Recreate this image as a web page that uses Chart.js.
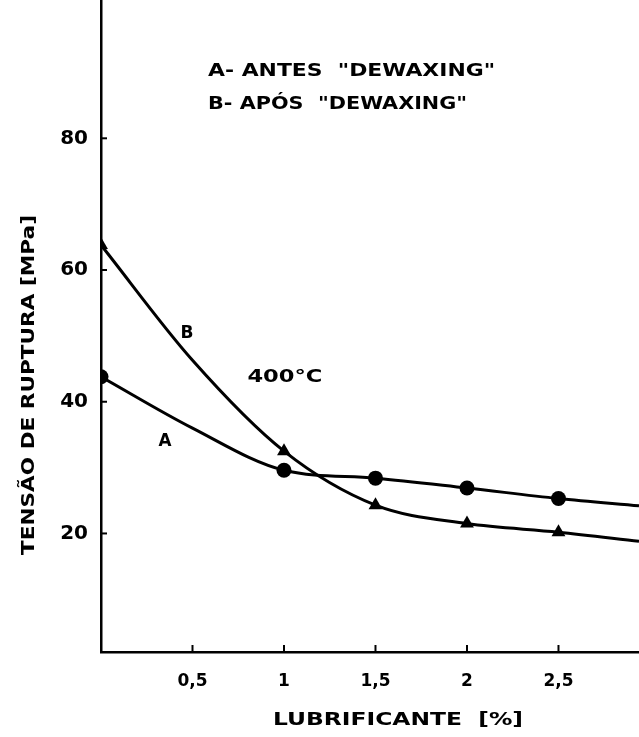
<!DOCTYPE html>
<html><head><meta charset="utf-8">
<script src="https://cdn.jsdelivr.net/npm/chart.js@4/dist/chart.umd.min.js"></script>
<style>html,body{margin:0;padding:0;background:#fff}#wrap{width:639px;height:737px}</style>
</head><body><div id="wrap"><canvas id="c" width="639" height="737"></canvas></div>
<script>
// measured points (markers)
const lubrificante = [0, 1, 1.5, 2, 2.5];
const tensaoA = [43.8, 29.6, 28.4, 26.9, 25.3];   // A - antes "dewaxing" (circles)
const tensaoB = [63.8, 32.5, 24.3, 21.5, 20.2];   // B - após "dewaxing" (triangles)
// drawn curves
const curveX = [0, 0.5, 1, 1.5, 2, 2.5, 2.94];
const curveA = [43.8, 36.0, 29.6, 28.4, 26.9, 25.3, 24.2];
const curveB = [63.8, 46.3, 32.5, 24.3, 21.5, 20.2, 18.8];
const xTicks = [0.5, 1, 1.5, 2, 2.5];
const yTicks = [20, 40, 60, 80];

const FONT = 'DejaVu Sans';
const pts = (xs, ys) => xs.map((x, i) => ({x, y: ys[i]}));

function fitText(ctx, text, cx, cy, w, size, rot) {
  ctx.save();
  ctx.font = 'bold ' + size + 'px "' + FONT + '"';
  ctx.textAlign = 'center';
  ctx.textBaseline = 'middle';
  ctx.translate(cx, cy);
  if (rot) ctx.rotate(rot);
  const m = ctx.measureText(text).width;
  ctx.scale(w / m, 1);
  ctx.fillStyle = '#000';
  ctx.fillText(text, 0, 0);
  ctx.restore();
}

const decor = {
  id: 'decor',
  afterDraw(chart) {
    const {ctx, scales: {x, y}, chartArea} = chart;
    ctx.save();
    ctx.strokeStyle = '#000';
    ctx.lineWidth = 2;
    yTicks.forEach(v => {
      const py = y.getPixelForValue(v);
      ctx.beginPath(); ctx.moveTo(chartArea.left, py); ctx.lineTo(chartArea.left + 6, py); ctx.stroke();
    });
    xTicks.forEach(v => {
      const px = x.getPixelForValue(v);
      ctx.beginPath(); ctx.moveTo(px, chartArea.bottom); ctx.lineTo(px, chartArea.bottom - 7); ctx.stroke();
    });
    ctx.restore();
    // titles
    fitText(ctx, 'TENSÃO DE RUPTURA [MPa]', 30, 385, 340, 17, -Math.PI / 2);
    fitText(ctx, 'LUBRIFICANTE  [%]', 398, 720, 250, 18, 0);
    // annotations in data coordinates
    const notes = [
      ['A- ANTES  "DEWAXING"', 0.585, 90.1, 287, 18],
      ['B- APÓS  "DEWAXING"', 0.585, 85.2, 259, 18],
      ['B', 0.47, 50.4, 13, 18],
      ['400°C', 0.80, 43.7, 75, 18],
      ['A', 0.35, 34.0, 13, 18]
    ];
    notes.forEach(([t, vx, vy, w, s]) => {
      const px = x.getPixelForValue(vx), py = y.getPixelForValue(vy);
      fitText(ctx, t, px + (t.length > 1 ? w / 2 : 0), py, w, s, 0);
    });
  }
};

function noPad(s) { s.paddingTop = 0; s.paddingBottom = 0; s.paddingLeft = 0; s.paddingRight = 0; }

new Chart(document.getElementById('c'), {
  type: 'scatter',
  data: {
    datasets: [
      {data: pts(curveX, curveA), showLine: true, borderColor: '#000', borderWidth: 3, pointRadius: 0, cubicInterpolationMode: 'monotone'},
      {data: pts(curveX, curveB), showLine: true, borderColor: '#000', borderWidth: 3, pointRadius: 0, cubicInterpolationMode: 'monotone'},
      {data: pts(lubrificante, tensaoA), showLine: false, pointStyle: 'circle', pointRadius: 7.5, backgroundColor: '#000', borderColor: '#000', borderWidth: 0},
      {data: pts(lubrificante, tensaoB), showLine: false, pointStyle: 'triangle', pointRadius: 8, backgroundColor: '#000', borderColor: '#000', borderWidth: 0}
    ]
  },
  options: {
    responsive: false,
    animation: false,
    devicePixelRatio: 1,
    layout: {padding: 0, autoPadding: false},
    plugins: {legend: {display: false}, tooltip: {enabled: false}},
    scales: {
      x: {
        type: 'linear', min: 0, max: 2.94,
        afterBuildTicks: s => { s.ticks = xTicks.map(v => ({value: v})); },
        afterFit: s => { s.height = 85; noPad(s); },
        grid: {display: false, drawTicks: false},
        border: {display: true, color: '#000', width: 2.5},
        ticks: {color: '#000', padding: 19, font: {family: FONT, size: 17, weight: 'bold'},
          callback: v => String(v).replace('.', ',')}
      },
      y: {
        type: 'linear', min: 2, max: 101,
        afterBuildTicks: s => { s.ticks = yTicks.map(v => ({value: v})); },
        afterFit: s => { s.width = 101; noPad(s); },
        grid: {display: false, drawTicks: false},
        border: {display: true, color: '#000', width: 2.5},
        ticks: {color: '#000', padding: 13, font: {family: FONT, size: 20, weight: 'bold'}}
      }
    }
  },
  plugins: [decor]
});
</script>
</body></html>
